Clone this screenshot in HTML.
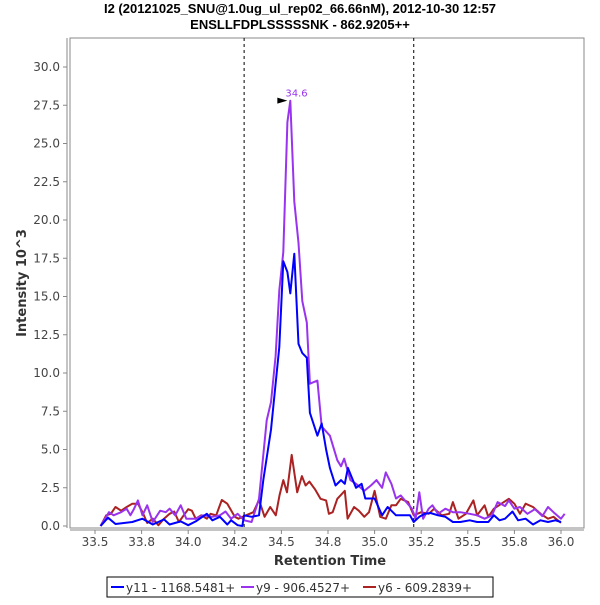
<!DOCTYPE html>
<html><head><meta charset="utf-8"><style>
body{margin:0;background:#fff;width:600px;height:600px;overflow:hidden;font-family:"Liberation Sans","DejaVu Sans",sans-serif}
</style></head><body>
<svg id="chart" width="600" height="600" xmlns="http://www.w3.org/2000/svg" font-family="DejaVu Sans, Liberation Sans, sans-serif">
<text x="300" y="13" text-anchor="middle" font-size="13" font-weight="bold" font-family="Liberation Sans, sans-serif" fill="#000">I2 (20121025_SNU@1.0ug_ul_rep02_66.66nM), 2012-10-30 12:57</text>
<text x="300" y="29" text-anchor="middle" font-size="13" font-weight="bold" font-family="Liberation Sans, sans-serif" fill="#000">ENSLLFDPLSSSSSNK - 862.9205++</text>
<rect x="70" y="38" width="514" height="490" fill="#fff" stroke="#888" stroke-width="1"/>
<g id="yaxis"></g>
<g id="xaxis"></g>
<g id="marks"></g>
<text x="330" y="565" text-anchor="middle" font-size="13" font-weight="bold" fill="#333">Retention Time</text>
<text transform="translate(26,283) rotate(-90)" text-anchor="middle" font-size="13" font-weight="bold" fill="#333">Intensity 10^3</text>
<g>
<rect x="107" y="577" width="386" height="20" fill="#fff" stroke="#000"/>
<g><line x1="111" y1="587" x2="124" y2="587" stroke="#0000ff" stroke-width="2"/><text x="126" y="592" font-size="12" fill="#333">y11 - 1168.5481+</text></g>
<g><line x1="241" y1="587" x2="254" y2="587" stroke="#9933ee" stroke-width="2"/><text x="256" y="592" font-size="12" fill="#333">y9 - 906.4527+</text></g>
<g><line x1="363" y1="587" x2="376" y2="587" stroke="#aa2222" stroke-width="2"/><text x="378" y="592" font-size="12" fill="#333">y6 - 609.2839+</text></g>
</g>
</svg>
<script>
const yTicks=[0,2.5,5,7.5,10,12.5,15,17.5,20,22.5,25,27.5,30];
const xTicks=[33.5,33.75,34,34.25,34.5,34.75,35,35.25,35.5,35.75,36];
const xTickLabels=["33.5","33.8","34.0","34.2","34.5","34.8","35.0","35.2","35.5","35.8","36.0"];
const boundaries=[34.30,35.21];
const peakTime=34.548, peakValue=27.8, peakLabel="34.6";
const y11T=[33.53,33.57,33.61,33.7,33.755,33.81,33.87,33.9,33.96,34.0,34.04,34.1,34.13,34.17,34.21,34.23,34.265,34.29,34.3,34.34,34.38,34.403,34.444,34.489,34.51,34.532,34.548,34.569,34.592,34.612,34.636,34.653,34.693,34.716,34.74,34.76,34.79,34.82,34.84,34.857,34.9,34.93,34.95,35.0,35.04,35.07,35.115,35.19,35.21,35.24,35.27,35.3,35.34,35.38,35.42,35.46,35.51,35.55,35.61,35.64,35.67,35.7,35.74,35.77,35.81,35.85,35.89,35.93,35.97,36.0];
const y11V=[0,0.54,0.13,0.26,0.48,0.1,0.43,0.1,0.3,0.05,0.3,0.8,0.37,0.6,0.1,0.37,0.05,0,0.7,0.6,0.7,3.0,6.3,11.7,17.3,16.6,15.2,17.8,11.9,11.3,11.0,7.4,5.9,6.7,5.0,3.8,2.65,3.0,2.76,3.8,2.5,2.76,1.8,1.8,0.7,1.24,0.7,0.7,0.26,0.6,0.8,0.85,0.7,0.6,0.26,0.26,0.37,0.26,0.26,0.7,0.37,0.48,0.95,0.37,0.48,0.1,0.37,0.26,0.37,0.26];
const y9T=[33.53,33.575,33.6,33.64,33.67,33.69,33.71,33.73,33.755,33.78,33.81,33.85,33.88,33.9,33.93,33.96,33.99,34.04,34.08,34.13,34.17,34.2,34.23,34.265,34.3,34.34,34.38,34.421,34.444,34.469,34.489,34.51,34.532,34.548,34.569,34.592,34.612,34.636,34.653,34.693,34.716,34.76,34.8,34.82,34.837,34.87,34.9,34.945,34.98,35.01,35.04,35.06,35.09,35.115,35.14,35.17,35.2,35.22,35.24,35.26,35.29,35.31,35.34,35.38,35.42,35.46,35.51,35.55,35.59,35.63,35.66,35.7,35.72,35.75,35.78,35.82,35.86,35.9,35.93,35.96,36.0,36.02];
const y9V=[0,0.9,0.7,0.9,1.13,0.7,1.13,1.67,0.7,1.35,0.26,1.0,0.9,1.13,0.7,1.35,0.48,0.48,0.7,0.6,0.7,0.95,0.48,0.8,0.37,0.26,1.78,6.9,8.1,11.1,15.4,17.9,26.4,27.8,21.2,18.5,14.7,13.3,9.3,9.5,6.5,5.9,4.3,3.9,4.4,3.0,2.76,2.3,2.65,3.0,2.5,3.5,2.76,1.8,2.0,1.56,1.13,0.48,2.2,0.48,1.13,1.35,0.8,1.13,0.9,0.9,0.8,0.7,0.48,0.7,1.56,1.3,1.67,1.13,1.24,0.8,1.1,0.65,1.24,0.9,0.48,0.8];
const y6T=[33.53,33.56,33.585,33.61,33.64,33.67,33.7,33.73,33.755,33.78,33.81,33.84,33.87,33.9,33.925,33.95,34.0,34.02,34.04,34.07,34.1,34.12,34.15,34.18,34.21,34.25,34.27,34.31,34.35,34.38,34.41,34.44,34.47,34.49,34.51,34.53,34.555,34.585,34.61,34.63,34.65,34.68,34.71,34.74,34.755,34.775,34.8,34.84,34.855,34.89,34.915,34.945,34.97,35.0,35.03,35.06,35.09,35.115,35.14,35.18,35.21,35.25,35.29,35.32,35.36,35.4,35.42,35.45,35.49,35.53,35.55,35.59,35.61,35.64,35.68,35.72,35.75,35.78,35.81,35.85,35.89,35.93,35.96,36.0];
const y6V=[0,0.7,0.8,1.24,1.0,1.24,1.46,1.46,0.9,0.2,0.48,0.05,0.48,0.8,0.95,0.26,1.1,1.0,0.48,0.7,0.48,0.8,0.7,1.7,1.46,0.6,0.48,0.7,0.9,1.7,0.6,1.24,0.7,2.0,3.0,2.2,4.65,2.2,3.26,2.65,2.9,2.4,1.78,1.67,0.8,0.9,1.78,2.3,0.48,1.24,1.0,0.6,0.9,2.3,0.6,0.48,1.35,1.35,1.78,1.56,0.7,0.9,0.8,1.13,0.7,0.8,1.56,0.48,0.8,1.67,0.7,1.35,0.6,1.13,1.46,1.78,1.46,0.8,1.46,1.24,0.8,0.48,0.6,0.2];

const NS="http://www.w3.org/2000/svg";
const X0=95,X1=561,T0=33.5,T1=36.0,Y0=526,Y30=67;
function xs(t){return X0+(t-T0)*(X1-X0)/(T1-T0);}
function ys(v){return Y0-v*(Y0-Y30)/30;}
function mk(tag,attrs,parent){const e=document.createElementNS(NS,tag);for(const k in attrs)e.setAttribute(k,attrs[k]);parent.appendChild(e);return e;}
const ya=document.getElementById('yaxis'),xa=document.getElementById('xaxis'),mg=document.getElementById('marks');
mk('line',{x1:67,y1:38,x2:67,y2:528,stroke:'#888'},ya);
yTicks.forEach(v=>{
  mk('line',{x1:63,y1:ys(v),x2:67,y2:ys(v),stroke:'#888'},ya);
  const t=mk('text',{x:60,y:ys(v)+4,'text-anchor':'end','font-size':'12',fill:'#444'},ya);
  t.textContent=v.toFixed(1);
  
  
});
mk('line',{x1:70,y1:530,x2:584,y2:530,stroke:'#888'},xa);
xTicks.forEach((v,i)=>{
  mk('line',{x1:xs(v),y1:530,x2:xs(v),y2:534,stroke:'#888'},xa);
  const t=mk('text',{x:xs(v),y:546,'text-anchor':'middle','font-size':'12',fill:'#444'},xa);
  t.textContent=xTickLabels[i];
  
  
});
boundaries.forEach(b=>{
  const l=mk('line',{x1:xs(b),y1:38,x2:xs(b),y2:528,stroke:'#000','stroke-dasharray':'3,3'},mg);
  
  
});
function series(T,V,color,name){
  const p=mk('polyline',{points:T.map((t,i)=>xs(t).toFixed(1)+','+ys(V[i]).toFixed(1)).join(' '),fill:'none',stroke:color,'stroke-width':'2','stroke-linejoin':'round'},mg);
  
  
}
series(y6T,y6V,'#aa2222','series-y6');
series(y9T,y9V,'#9933ee','series-y9');
series(y11T,y11V,'#0000ff','series-y11');
const px=xs(peakTime),py=ys(peakValue);
const ar=mk('polygon',{points:(px-13)+','+(py-3)+' '+(px-3)+','+py+' '+(px-13)+','+(py+3),fill:'#000'},mg);


const pl=mk('text',{x:px-5,y:py-4,'font-size':'10',fill:'#9933ee'},mg);
pl.textContent=peakLabel;


</script>
</body></html>
